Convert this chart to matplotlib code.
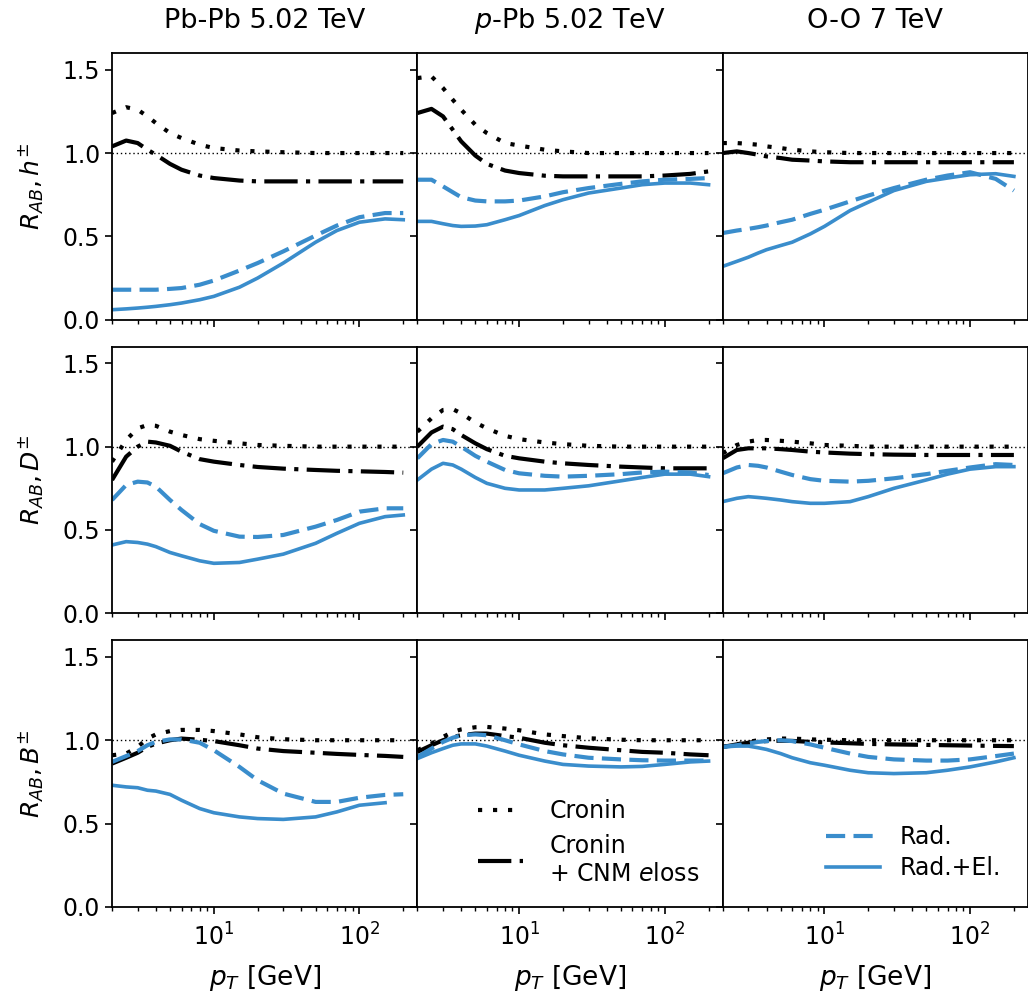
import numpy as np
import matplotlib
matplotlib.use("Agg")
import matplotlib.pyplot as plt

# ---------------- data ----------------
pT = [2, 2.5, 3, 3.5, 4, 5, 6, 8, 10, 15, 20, 30, 50, 70, 100, 150, 200]

col_titles = ["Pb-Pb 5.02 TeV", "$p$-Pb 5.02 TeV", "O-O 7 TeV"]
row_labels = [r"$R_{AB}, h^{\pm}$", r"$R_{AB}, D^{\pm}$", r"$R_{AB}, B^{\pm}$"]

# --- charged hadrons ---
PbPb_h_cronin = [1.24, 1.275, 1.26, 1.22, 1.18, 1.12, 1.09, 1.05, 1.03, 1.015, 1.01, 1.005, 1.0, 1.0, 1.0, 1.0, 1.0]
PbPb_h_cnm    = [1.04, 1.075, 1.06, 1.02, 0.99, 0.935, 0.90, 0.865, 0.85, 0.835, 0.83, 0.83, 0.83, 0.83, 0.83, 0.83, 0.83]
PbPb_h_rad    = [0.18, 0.18, 0.18, 0.18, 0.18, 0.185, 0.19, 0.21, 0.235, 0.295, 0.34, 0.41, 0.505, 0.565, 0.615, 0.64, 0.64]
PbPb_h_radel  = [0.06, 0.065, 0.07, 0.075, 0.08, 0.09, 0.10, 0.12, 0.14, 0.195, 0.25, 0.34, 0.465, 0.535, 0.585, 0.605, 0.60]

pPb_h_cronin = [1.45, 1.46, 1.39, 1.32, 1.26, 1.17, 1.12, 1.06, 1.045, 1.02, 1.01, 1.0, 1.0, 1.0, 1.0, 1.0, 1.0]
pPb_h_cnm    = [1.24, 1.265, 1.22, 1.14, 1.07, 0.985, 0.935, 0.895, 0.88, 0.864, 0.86, 0.86, 0.86, 0.86, 0.865, 0.875, 0.89]
pPb_h_rad    = [0.84, 0.84, 0.80, 0.765, 0.735, 0.715, 0.71, 0.71, 0.715, 0.74, 0.765, 0.79, 0.815, 0.83, 0.84, 0.845, 0.85]
pPb_h_radel  = [0.59, 0.59, 0.576, 0.565, 0.56, 0.562, 0.57, 0.60, 0.625, 0.685, 0.72, 0.76, 0.79, 0.81, 0.82, 0.82, 0.81]

OO_h_cronin = [1.06, 1.06, 1.055, 1.05, 1.04, 1.03, 1.02, 1.01, 1.005, 1.0, 1.0, 1.0, 1.0, 1.0, 1.0, 1.0, 1.0]
OO_h_cnm    = [1.0, 1.01, 1.0, 0.99, 0.98, 0.97, 0.96, 0.955, 0.95, 0.945, 0.945, 0.945, 0.945, 0.945, 0.945, 0.945, 0.945]
OO_h_rad    = [0.52, 0.535, 0.545, 0.555, 0.565, 0.585, 0.60, 0.635, 0.66, 0.71, 0.745, 0.79, 0.84, 0.865, 0.885, 0.845, 0.775]
OO_h_radel  = [0.32, 0.35, 0.375, 0.40, 0.42, 0.445, 0.465, 0.515, 0.56, 0.655, 0.705, 0.775, 0.83, 0.85, 0.87, 0.876, 0.86]

# --- D mesons ---
PbPb_D_cronin = [0.91, 1.04, 1.11, 1.13, 1.125, 1.09, 1.07, 1.045, 1.035, 1.02, 1.01, 1.005, 1.0, 1.0, 1.0, 1.0, 1.0]
PbPb_D_cnm    = [0.80, 0.94, 1.0, 1.03, 1.025, 1.005, 0.97, 0.925, 0.91, 0.89, 0.878, 0.868, 0.86, 0.855, 0.852, 0.848, 0.844]
PbPb_D_rad    = [0.68, 0.77, 0.79, 0.785, 0.76, 0.68, 0.62, 0.535, 0.495, 0.46, 0.458, 0.47, 0.52, 0.56, 0.61, 0.63, 0.63]
PbPb_D_radel  = [0.41, 0.43, 0.425, 0.415, 0.40, 0.365, 0.345, 0.315, 0.30, 0.305, 0.325, 0.355, 0.42, 0.48, 0.54, 0.58, 0.59]

pPb_D_cronin = [1.09, 1.17, 1.22, 1.225, 1.20, 1.145, 1.11, 1.065, 1.045, 1.025, 1.015, 1.005, 1.0, 1.0, 1.0, 1.0, 1.0]
pPb_D_cnm    = [1.0, 1.085, 1.12, 1.105, 1.07, 1.02, 0.985, 0.945, 0.93, 0.91, 0.90, 0.89, 0.88, 0.875, 0.87, 0.87, 0.87]
pPb_D_rad    = [0.93, 1.015, 1.04, 1.03, 1.0, 0.945, 0.91, 0.86, 0.84, 0.825, 0.82, 0.825, 0.835, 0.845, 0.85, 0.845, 0.83]
pPb_D_radel  = [0.80, 0.865, 0.90, 0.89, 0.865, 0.815, 0.78, 0.75, 0.74, 0.74, 0.75, 0.765, 0.795, 0.815, 0.835, 0.835, 0.82]

OO_D_cronin = [0.96, 1.01, 1.03, 1.04, 1.04, 1.035, 1.03, 1.02, 1.01, 1.005, 1.0, 1.0, 1.0, 1.0, 1.0, 1.0, 1.0]
OO_D_cnm    = [0.93, 0.98, 0.99, 0.99, 0.99, 0.985, 0.98, 0.97, 0.965, 0.958, 0.955, 0.952, 0.95, 0.95, 0.95, 0.95, 0.95]
OO_D_rad    = [0.84, 0.875, 0.89, 0.885, 0.875, 0.85, 0.83, 0.805, 0.795, 0.79, 0.795, 0.81, 0.835, 0.855, 0.875, 0.895, 0.89]
OO_D_radel  = [0.67, 0.69, 0.70, 0.695, 0.69, 0.68, 0.67, 0.66, 0.66, 0.67, 0.70, 0.75, 0.80, 0.835, 0.865, 0.88, 0.88]

# --- B mesons ---
PbPb_B_cronin = [0.91, 0.92, 0.96, 1.01, 1.035, 1.055, 1.062, 1.062, 1.055, 1.035, 1.018, 1.006, 1.0, 1.0, 1.0, 1.0, 1.0]
PbPb_B_cnm    = [0.86, 0.895, 0.925, 0.96, 0.98, 1.0, 1.01, 1.003, 0.995, 0.97, 0.95, 0.935, 0.925, 0.918, 0.912, 0.906, 0.90]
PbPb_B_rad    = [0.87, 0.905, 0.935, 0.97, 0.99, 1.005, 1.005, 0.985, 0.94, 0.84, 0.76, 0.68, 0.63, 0.63, 0.655, 0.672, 0.676]
PbPb_B_radel  = [0.73, 0.72, 0.715, 0.70, 0.695, 0.675, 0.64, 0.59, 0.565, 0.54, 0.53, 0.525, 0.54, 0.57, 0.61, 0.625, np.nan]

pPb_B_cronin = [0.94, 0.98, 1.02, 1.05, 1.065, 1.078, 1.08, 1.07, 1.06, 1.035, 1.025, 1.012, 1.003, 1.0, 1.0, 1.0, 1.0]
pPb_B_cnm    = [0.93, 0.97, 1.0, 1.02, 1.03, 1.04, 1.04, 1.025, 1.015, 0.985, 0.97, 0.955, 0.94, 0.93, 0.925, 0.915, 0.91]
pPb_B_rad    = [0.90, 0.95, 0.99, 1.015, 1.03, 1.035, 1.03, 1.0, 0.975, 0.935, 0.915, 0.895, 0.885, 0.88, 0.878, 0.878, 0.878]
pPb_B_radel  = [0.89, 0.925, 0.95, 0.97, 0.978, 0.978, 0.965, 0.935, 0.91, 0.875, 0.855, 0.845, 0.84, 0.843, 0.855, 0.87, 0.875]

OO_B_cronin = [0.96, 0.975, 0.99, 1.0, 1.005, 1.01, 1.01, 1.005, 1.003, 1.0, 1.0, 1.0, 1.0, 1.0, 1.0, 1.0, 1.0]
OO_B_cnm    = [0.96, 0.975, 0.985, 0.992, 0.995, 0.997, 0.996, 0.99, 0.987, 0.982, 0.978, 0.975, 0.972, 0.97, 0.968, 0.966, 0.965]
OO_B_rad    = [0.96, 0.97, 0.98, 0.99, 0.995, 1.0, 0.995, 0.975, 0.955, 0.92, 0.90, 0.885, 0.878, 0.878, 0.885, 0.905, 0.92]
OO_B_radel  = [0.96, 0.965, 0.965, 0.955, 0.945, 0.92, 0.895, 0.865, 0.85, 0.82, 0.805, 0.80, 0.805, 0.82, 0.84, 0.87, 0.895]

panels = [
    [(PbPb_h_cronin, PbPb_h_cnm, PbPb_h_rad, PbPb_h_radel),
     (pPb_h_cronin, pPb_h_cnm, pPb_h_rad, pPb_h_radel),
     (OO_h_cronin, OO_h_cnm, OO_h_rad, OO_h_radel)],
    [(PbPb_D_cronin, PbPb_D_cnm, PbPb_D_rad, PbPb_D_radel),
     (pPb_D_cronin, pPb_D_cnm, pPb_D_rad, pPb_D_radel),
     (OO_D_cronin, OO_D_cnm, OO_D_rad, OO_D_radel)],
    [(PbPb_B_cronin, PbPb_B_cnm, PbPb_B_rad, PbPb_B_radel),
     (pPb_B_cronin, pPb_B_cnm, pPb_B_rad, pPb_B_radel),
     (OO_B_cronin, OO_B_cnm, OO_B_rad, OO_B_radel)],
]

# ---------------- plot ----------------
blue = "#3a8dcc"
plt.rcParams["font.family"] = "DejaVu Sans"
plt.rcParams["mathtext.fontset"] = "dejavusans"

fig, axes = plt.subplots(3, 3, figsize=(10.28, 10.01), dpi=100, sharex=True, sharey=True)
fig.subplots_adjust(left=0.109, right=1.0, top=0.947, bottom=0.094, wspace=0.0, hspace=0.101)

for i in range(3):
    for j in range(3):
        ax = axes[i, j]
        cr, cnm, rad, radel = panels[i][j]
        ax.axhline(1.0, color="black", ls=(0, (1, 2)), lw=1.0, zorder=1)
        l1, = ax.plot(pT, cr, color="black", ls=(0, (1, 2.6)), lw=3.0, label="Cronin")
        l2, = ax.plot(pT, cnm, color="black", ls=(0, (8, 2, 1, 2)), lw=3.0,
                      label="Cronin\n+ CNM $e$loss")
        l3, = ax.plot(pT, rad, color=blue, ls=(0, (4.6, 2)), lw=3.0, label="Rad.")
        l4, = ax.plot(pT, radel, color=blue, ls="-", lw=2.6, label="Rad.+El.")
        ax.set_xscale("log")
        ax.set_xlim(2, 250)
        ax.set_ylim(0, 1.6)
        ax.set_yticks([0.0, 0.5, 1.0, 1.5])
        ax.tick_params(axis="both", which="major", labelsize=17, length=5, width=1.2)
        ax.tick_params(axis="x", which="major", pad=7)
        ax.tick_params(axis="both", which="minor", length=3, width=1.0)
        for s in ax.spines.values():
            s.set_linewidth(1.3)
        if i == 0:
            ax.set_title(col_titles[j], fontsize=19.5, pad=18)
        if j == 0:
            ax.set_ylabel(row_labels[i], fontsize=18, labelpad=12)
        if i == 2:
            ax.set_xlabel("$p_T$ [GeV]", fontsize=19, labelpad=9)
        if i == 2 and j == 1:
            ax.legend(handles=[l1, l2], loc="lower left", bbox_to_anchor=(0.13, 0.0),
                      frameon=False, fontsize=17, handlelength=1.9, handletextpad=1.1,
                      labelspacing=0.45)
        if i == 2 and j == 2:
            ax.legend(handles=[l3, l4], loc="lower right", bbox_to_anchor=(0.98, 0.02),
                      frameon=False, fontsize=17, handlelength=2.3, labelspacing=0.3)

fig.savefig("out.png", dpi=100)
